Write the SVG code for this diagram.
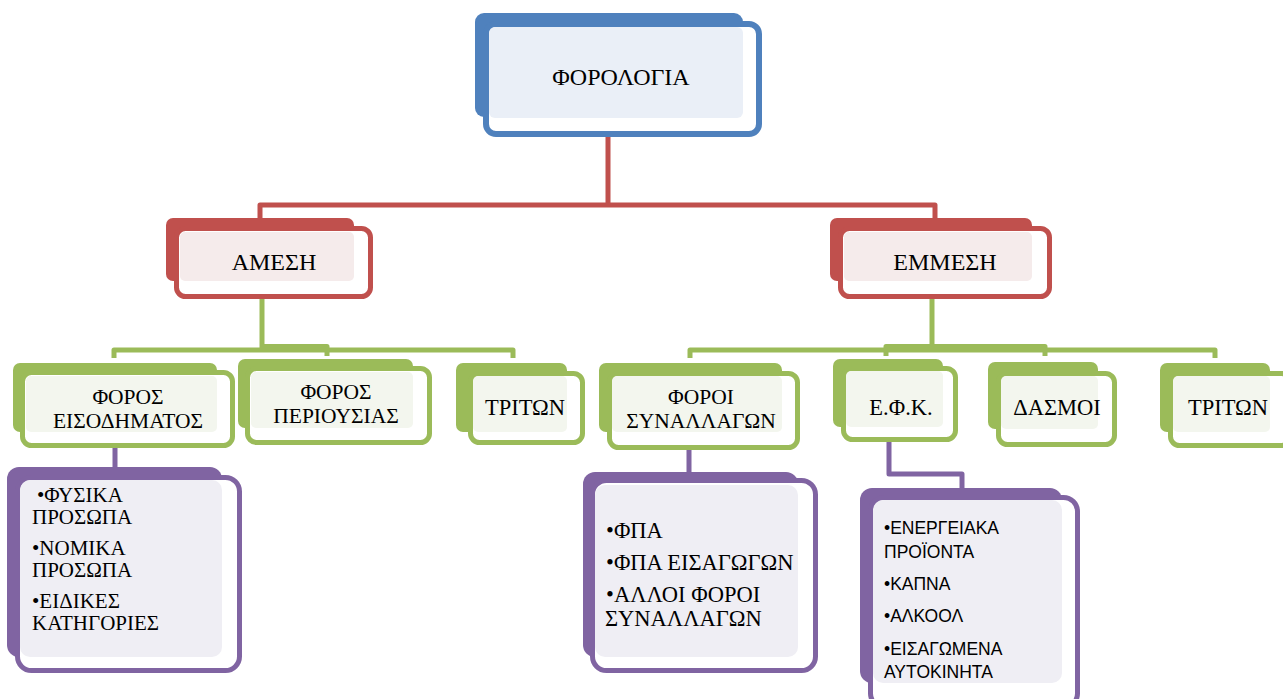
<svg xmlns="http://www.w3.org/2000/svg" width="1283" height="699" viewBox="0 0 1283 699">
<style>
.t{font-family:"Liberation Serif","Times New Roman",serif;fill:#000;text-anchor:middle}
.l0{font-size:24px}
.l1{font-size:24px}
.l2{font-size:21.5px}
.l2b{font-size:22.5px}
.p{font-family:"Liberation Serif","Times New Roman",serif;font-size:21px;fill:#000}
.pm{font-family:"Liberation Serif","Times New Roman",serif;font-size:22.5px;fill:#000}
.ps{font-family:"Liberation Sans",Arial,sans-serif;font-size:17.5px;fill:#000}
.bB{fill:#4F81BD}.fB{fill:#fff;stroke:#4F81BD;stroke-width:6}.lB{fill:#EAEFF7}
.bR{fill:#C0504D}.fR{fill:#fff;stroke:#C0504D;stroke-width:5}.lR{fill:#F5EBEB}
.bG{fill:#9BBB59}.fG{fill:#fff;stroke:#9BBB59;stroke-width:5}.lG{fill:#F3F6EE}
.bP{fill:#8064A2}.fP{fill:#fff;stroke:#8064A2;stroke-width:5}.lP{fill:#EFEEF4}
.c{fill:none;stroke-width:5;stroke-linejoin:round}
</style>
<g id="connectors">
<path class="c" stroke="#C0504D" d="M608 120 V205 M260 222 V205 H935 V222"/>
<path class="c" stroke="#9BBB59" d="M262 290 V350 M114 358 V350 H513 V358 M262 346.5 H327 V356"/>
<path class="c" stroke="#9BBB59" d="M932 290 V350 M690 358 V350 H1215 V358 M886 356 V346.5 H1045 V356"/>
<path class="c" stroke="#8064A2" d="M115 440 V468 M689 440 V473 M889 435 V474 H962 V490"/>
</g>
<g id="n-forologia">
<rect class="bB" x="475" y="13" width="268" height="104" rx="9"/>
<rect class="fB" x="486" y="24" width="273" height="110" rx="10"/>
<rect class="lB" x="489" y="27" width="254" height="91" rx="6"/>
<text class="t l0" x="621" y="85">ΦΟΡΟΛΟΓΙΑ</text>
</g>
<g id="n-amesi">
<rect class="bR" x="166" y="218" width="188" height="63" rx="7"/>
<rect class="fR" x="176.5" y="228.5" width="194" height="68" rx="9"/>
<rect class="lR" x="180" y="232" width="174" height="49" rx="5"/>
<text class="t l1" x="274" y="270">ΑΜΕΣΗ</text>
</g>
<g id="n-emmesi">
<rect class="bR" x="830" y="218" width="202" height="63" rx="7"/>
<rect class="fR" x="840.5" y="228.5" width="209" height="68" rx="9"/>
<rect class="lR" x="844" y="232" width="188" height="49" rx="5"/>
<text class="t l1" x="945" y="270">ΕΜΜΕΣΗ</text>
</g>
<g id="n-eisodima">
<rect class="bG" x="13" y="363" width="204" height="69" rx="7"/>
<rect class="fG" x="22.5" y="372.5" width="210" height="73" rx="9"/>
<rect class="lG" x="26" y="376" width="191" height="56" rx="5"/>
<text class="t l2" x="128" y="403.5">ΦΟΡΟΣ<tspan x="128" dy="24">ΕΙΣΟΔΗΜΑΤΟΣ</tspan></text>
</g>
<g id="n-periousia">
<rect class="bG" x="238" y="359" width="175" height="69" rx="7"/>
<rect class="fG" x="247.5" y="368.5" width="182" height="74" rx="9"/>
<rect class="lG" x="251" y="372" width="162" height="56" rx="5"/>
<text class="t l2" x="336" y="398.5">ΦΟΡΟΣ<tspan x="336" dy="24">ΠΕΡΙΟΥΣΙΑΣ</tspan></text>
</g>
<g id="n-triton1">
<rect class="bG" x="456" y="363" width="111" height="69" rx="7"/>
<rect class="fG" x="470.5" y="373.5" width="112" height="69" rx="9"/>
<rect class="lG" x="473" y="376" width="94" height="56" rx="5"/>
<text class="t l2b" x="525" y="415">ΤΡΙΤΩΝ</text>
</g>
<g id="n-synallagon">
<rect class="bG" x="599" y="363" width="183" height="69" rx="7"/>
<rect class="fG" x="609.5" y="373.5" width="188" height="74" rx="9"/>
<rect class="lG" x="612" y="376" width="170" height="56" rx="5"/>
<text class="t l2" x="701" y="403.5">ΦΟΡΟΙ<tspan x="701" dy="24">ΣΥΝΑΛΛΑΓΩΝ</tspan></text>
</g>
<g id="n-efk">
<rect class="bG" x="833" y="359" width="110" height="68" rx="7"/>
<rect class="fG" x="843.5" y="368.5" width="112" height="71" rx="9"/>
<rect class="lG" x="846" y="371" width="97" height="56" rx="5"/>
<text class="t l2b" x="901" y="415">Ε.Φ.Κ.</text>
</g>
<g id="n-dasmoi">
<rect class="bG" x="988" y="362" width="110" height="67" rx="7"/>
<rect class="fG" x="998.5" y="373.5" width="116" height="71" rx="9"/>
<rect class="lG" x="1001" y="376" width="97" height="53" rx="5"/>
<text class="t l2b" x="1057" y="415">ΔΑΣΜΟΙ</text>
</g>
<g id="n-triton2">
<rect class="bG" x="1160" y="363" width="110" height="69" rx="7"/>
<rect class="fG" x="1170.5" y="373.5" width="120" height="72" rx="9"/>
<rect class="lG" x="1173" y="376" width="97" height="56" rx="5"/>
<text class="t l2b" x="1228" y="415">ΤΡΙΤΩΝ</text>
</g>
<g id="n-list1">
<rect class="bP" x="7" y="467" width="215" height="190" rx="12"/>
<rect class="fP" x="17.5" y="477.5" width="222" height="193" rx="14"/>
<rect class="lP" x="20" y="480" width="202" height="177" rx="10"/>
<text class="p" x="37" y="502">•ΦΥΣΙΚΑ<tspan x="32" dy="22">ΠΡΟΣΩΠΑ</tspan></text>
<text class="p" x="32" y="555">•ΝΟΜΙΚΑ<tspan x="32" dy="22">ΠΡΟΣΩΠΑ</tspan></text>
<text class="p" x="32" y="608">•ΕΙΔΙΚΕΣ<tspan x="32" dy="22">ΚΑΤΗΓΟΡΙΕΣ</tspan></text>
</g>
<g id="n-list2">
<rect class="bP" x="583" y="472" width="215" height="185" rx="12"/>
<rect class="fP" x="592.5" y="480.5" width="223" height="190" rx="14"/>
<rect class="lP" x="595" y="485" width="203" height="172" rx="10"/>
<text class="pm" x="606" y="538">•ΦΠΑ</text>
<text class="pm" x="606" y="570">•ΦΠΑ ΕΙΣΑΓΩΓΩΝ</text>
<text class="pm" x="606" y="602">•ΑΛΛΟΙ ΦΟΡΟΙ<tspan x="605" dy="24">ΣΥΝΑΛΛΑΓΩΝ</tspan></text>
</g>
<g id="n-list3">
<rect class="bP" x="860" y="488" width="202" height="195" rx="12"/>
<rect class="fP" x="870.5" y="497.5" width="207" height="210" rx="14"/>
<rect class="lP" x="873" y="500" width="189" height="183" rx="10"/>
<text class="ps" x="884" y="534">•ΕΝΕΡΓΕΙΑΚΑ<tspan x="884" dy="24">ΠΡΟΪΟΝΤΑ</tspan></text>
<text class="ps" x="884" y="590">•ΚΑΠΝΑ</text>
<text class="ps" x="884" y="622">•ΑΛΚΟΟΛ</text>
<text class="ps" x="884" y="655">•ΕΙΣΑΓΩΜΕΝΑ<tspan x="884" dy="23">ΑΥΤΟΚΙΝΗΤΑ</tspan></text>
</g>
</svg>
